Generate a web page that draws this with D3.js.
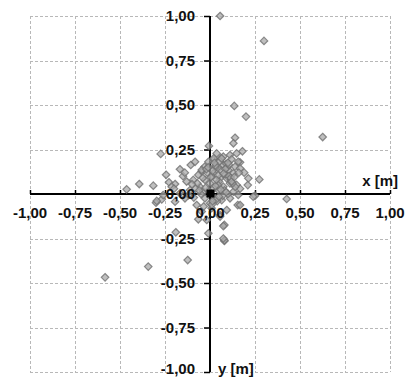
<!DOCTYPE html>
<html>
<head>
<meta charset="utf-8">
<script src="https://cdn.jsdelivr.net/npm/d3@7"></script>
<style>
  body { margin: 0; background: #fff; }
  svg { display: block; }
  text { font-family: "Liberation Sans", Arial, sans-serif; font-weight: bold; fill: #111; }
</style>
</head>
<body>
<div id="chart"></div>
<script>
// tick values, both axes
const ticks = [-1, -0.75, -0.5, -0.25, 0, 0.25, 0.5, 0.75, 1];

// scattered measured positions [x, y] in metres
const pointsX = [0.056, 0.30, 0.135, 0.20, 0.626, 0.139, 0.13, 0.18, -0.006, -0.274, -0.107, -0.167, -0.244, 0.213, 0.274,
  0.167, -0.046, -0.03, -0.393, -0.315, -0.463, -0.194, -0.583, -0.343, -0.124, -0.19, -0.009, 0.08, 0.08, 0.426,
  0.25, 0.154, -0.065, 0.056, -0.3, -0.268, -0.228, -0.213, -0.26, -0.296, -0.194, -0.12, -0.093, -0.065, -0.046,
  -0.056, -0.074, -0.046, -0.018, 0.08, 0.037, 0.074, 0.111, 0.157, 0.24, 0.148, 0.167, 0.093, 0.056, 0.019,
  0.046, 0.074, 0.102, 0.13, 0.111, 0.074, 0.046, 0.028, 0.065, 0.111, 0.13, -0.037, -0.028, 0, 0.009,
  -0.028, 0, 0.019, -0.009, 0.056, 0.093, 0.139, 0.167, 0.148, -0.083, -0.111, -0.139, -0.167, 0.074, 0.074,
  0.167, 0.157, 0.12, 0.09, 0.06, 0.03, 0.01, -0.015, -0.04, -0.07, 0.02, 0.05, 0.085, 0.115, 0.14,
  0.03, 0.065, 0.1, -0.01, -0.05, -0.09, 0.04, 0.07, 0.105, 0.02, -0.02, 0.01, 0.045, 0.08, -0.13,
  -0.15, -0.2, 0.19, 0.21, 0.035, 0.095, 0.125, -0.035, -0.08, 0.005,
  0.025, 0.055, 0.085, 0.115, 0.015, 0.045, 0.075, 0.105, -0.01, 0.03, 0.06, 0.09, 0.12, 0.015, 0.05,
  -0.025, -0.06, -0.1, -0.14, 0.135, 0.16, 0.065, 0.035, 0.1];
const pointsY = [1.0, 0.86, 0.495, 0.435, 0.32, 0.316, 0.285, 0.24, 0.27, 0.225, 0.163, 0.139, 0.108, 0.088, 0.082,
  0.178, 0.125, 0.153, 0.056, 0.047, 0.026, 0.056, -0.468, -0.408, -0.371, -0.215, -0.221, -0.264, -0.174, -0.028,
  -0.01, -0.062, -0.142, -0.118, -0.049, -0.03, 0.066, 0.041, -0.006, -0.039, -0.043, -0.006, 0.079, 0.107, 0.135,
  0.041, -0.062, -0.099, -0.146, -0.26, 0.228, 0.21, 0.219, 0.181, -0.015, 0.051, -0.062, -0.09, -0.127, 0.116,
  0.144, 0.163, 0.135, 0.116, 0.06, 0.041, 0.022, -0.024, -0.034, -0.024, 0.013, 0.013, -0.024, -0.052, -0.08,
  0.079, 0.06, 0.191, 0.181, 0.088, 0.088, 0.153, 0.144, 0.228, 0.181, 0.022, -0.024, 0.004, -0.18, -0.25,
  0.03, -0.005, 0.195, 0.17, 0.2, 0.15, 0.1, 0.12, 0.09, 0.06, 0.03, 0.07, 0.11, 0.08, 0.04,
  0.16, 0.13, 0.0, 0.02, 0.0, -0.02, -0.04, -0.01, 0.1, 0.2, 0.14, -0.06, 0.05, 0.02, 0.07,
  0.1, 0.03, 0.12, 0.05, -0.03, 0.15, 0.06, -0.07, 0.03, 0.095,
  0.175, 0.185, 0.14, 0.09, 0.13, 0.105, 0.115, 0.165, 0.15, 0.045, 0.025, 0.01, 0.07, -0.04, -0.015,
  0.035, 0.02, 0.055, 0.12, 0.095, 0.12, 0.2, 0.08, 0.175];

// reference point
const originX = [0];
const originY = [0];

const width = 406;
const height = 378;
const plotLeft = 30, plotRight = 390, plotTop = 16, plotBottom = 372;

const x = d3.scaleLinear().domain([-1, 1]).range([plotLeft, plotRight]);
const y = d3.scaleLinear().domain([-1, 1]).range([plotBottom, plotTop]);
const fmt = v => d3.format(".2f")(v).replace(".", ",").replace("−", "-");

const svg = d3.select("#chart").append("svg")
    .attr("width", width)
    .attr("height", height);

// dashed grid incl. border
const grid = svg.append("g")
    .attr("stroke", "#b8b8b8")
    .attr("stroke-width", 1)
    .attr("stroke-dasharray", "3,2");

grid.selectAll("line.v").data(ticks).enter().append("line")
    .attr("x1", d => Math.round(x(d)) + 0.5).attr("x2", d => Math.round(x(d)) + 0.5)
    .attr("y1", plotTop).attr("y2", plotBottom);

grid.selectAll("line.h").data(ticks).enter().append("line")
    .attr("y1", d => Math.round(y(d)) + 0.5).attr("y2", d => Math.round(y(d)) + 0.5)
    .attr("x1", plotLeft).attr("x2", plotRight);

// axes through origin
const xAxis = d3.axisTop(x).tickValues(ticks).tickSize(4).tickFormat("");
const yAxis = d3.axisLeft(y).tickValues(ticks).tickSize(6).tickFormat("");

svg.append("g")
    .attr("transform", "translate(0," + y(0) + ")")
    .call(xAxis)
    .call(g => g.select(".domain").attr("stroke-width", 2).attr("d", "M" + plotLeft + ",0H" + plotRight))
    .call(g => g.selectAll(".tick line").attr("stroke-width", 1.5));

svg.append("g")
    .attr("transform", "translate(" + x(0) + ",0)")
    .call(yAxis)
    .call(g => g.select(".domain").attr("stroke-width", 2).attr("d", "M0," + plotTop + "V" + plotBottom))
    .call(g => g.selectAll(".tick line").attr("stroke-width", 1.5));

// points
const points = pointsX.map((d, i) => [d, pointsY[i]]);
const diamond = d3.symbol().type(d3.symbolDiamond2).size(36);

svg.append("g").selectAll("path")
    .data(points)
    .enter().append("path")
    .attr("d", diamond)
    .attr("transform", d => "translate(" + x(d[0]) + "," + y(d[1]) + ")")
    .attr("fill", "#aaa")
    .attr("fill-opacity", 0.75)
    .attr("stroke", "#707070")
    .attr("stroke-opacity", 0.8)
    .attr("stroke-width", 1.2);

svg.append("g").selectAll("rect")
    .data(originX.map((d, i) => [d, originY[i]]))
    .enter().append("rect")
    .attr("x", d => x(d[0]) - 3.5)
    .attr("y", d => y(d[1]) - 4.5)
    .attr("width", 8)
    .attr("height", 8)
    .attr("fill", "#000");

// tick labels
svg.append("g").selectAll("text")
    .data(ticks)
    .enter().append("text")
    .attr("x", d => x(d))
    .attr("y", y(0) + 24)
    .attr("text-anchor", "middle")
    .style("font-size", "15px")
    .text(fmt);

svg.append("g").selectAll("text")
    .data(ticks)
    .enter().append("text")
    .attr("x", x(0) - 15)
    .attr("y", d => Math.min(y(d) + 5, 374))
    .attr("text-anchor", "end")
    .style("font-size", "15px")
    .text(fmt);

// axis titles
svg.append("text")
    .attr("x", 398)
    .attr("y", 186)
    .attr("text-anchor", "end")
    .style("font-size", "15px")
    .text("x [m]");

svg.append("text")
    .attr("x", 218)
    .attr("y", 374)
    .style("font-size", "15px")
    .text("y [m]");
</script>
</body>
</html>
